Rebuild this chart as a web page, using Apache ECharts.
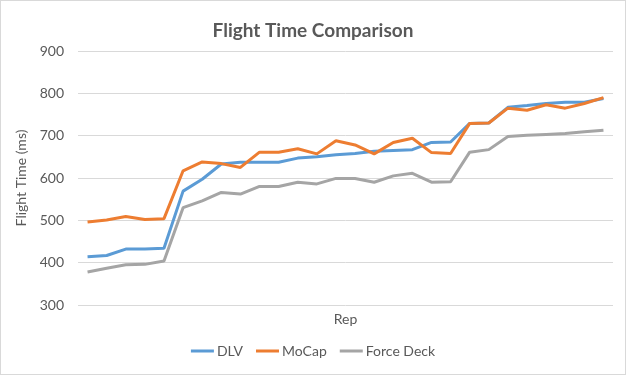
<!DOCTYPE html>
<html><head><meta charset="utf-8">
<script src="https://cdn.jsdelivr.net/npm/echarts@6/dist/echarts.min.js"></script>
<style>html,body{margin:0;padding:0;background:#fff}#c{width:624px;height:373px;border:1px solid #d9d9d9}</style>
</head><body><div id="c"></div>
<script>
var reps = [];
for (var i = 1; i <= 28; i++) reps.push(String(i));
var dlv = [414,417,432,432,434,569,597,633,637,637,637,647,650,655,658,663,665,667,684,685,729,730,767,771,776,779,779,788];
var mocap = [496,501,509,502,504,617,638,634,625,661,661,669,657,688,678,657,684,694,660,658,729,730,765,760,773,765,776,790];
var forceDeck = [378,387,395,396,404,530,546,566,562,580,580,590,586,599,599,590,605,611,590,591,661,667,698,701,703,705,709,713];
var yTicks = {min:300, max:900, interval:100};
var font = 'Lato, "Open Sans", sans-serif';
var chart = echarts.init(document.getElementById('c'));
function ser(name, data, color){
  return {name:name, type:'line', data:data, showSymbol:false, symbol:'none',
    lineStyle:{width:3, color:color}, itemStyle:{color:color}};
}
chart.setOption({
  animation:false,
  title:{text:'Flight Time Comparison', left:'center', top:15,
    textStyle:{fontFamily:font, fontSize:19, fontWeight:'bold', color:'#595959'}},
  grid:{left:77, right:12, top:50, bottom:69},
  xAxis:{type:'category', data:reps, boundaryGap:true,
    name:'Rep', nameLocation:'middle', nameGap:7,
    nameTextStyle:{fontFamily:font, fontSize:14, color:'#595959', verticalAlign:'top'},
    axisLine:{show:false}, axisTick:{show:false}, axisLabel:{show:false}},
  yAxis:{type:'value', min:yTicks.min, max:yTicks.max, interval:yTicks.interval,
    name:'Flight Time (ms)', nameLocation:'middle', nameGap:40, nameRotate:90,
    nameTextStyle:{fontFamily:font, fontSize:14, color:'#595959'},
    axisLabel:{fontFamily:font, fontSize:14, color:'#595959', margin:14},
    splitLine:{lineStyle:{color:'#d9d9d9', width:1}}},
  legend:{bottom:11, left:'center', icon:'rect', itemWidth:23, itemHeight:3, itemGap:13,
    textStyle:{fontFamily:font, fontSize:14, color:'#595959', padding:[0,0,0,-2]}},
  series:[ser('DLV', dlv, '#5B9BD5'), ser('MoCap', mocap, '#ED7D31'), ser('Force Deck', forceDeck, '#A5A5A5')]
});
</script></body></html>
